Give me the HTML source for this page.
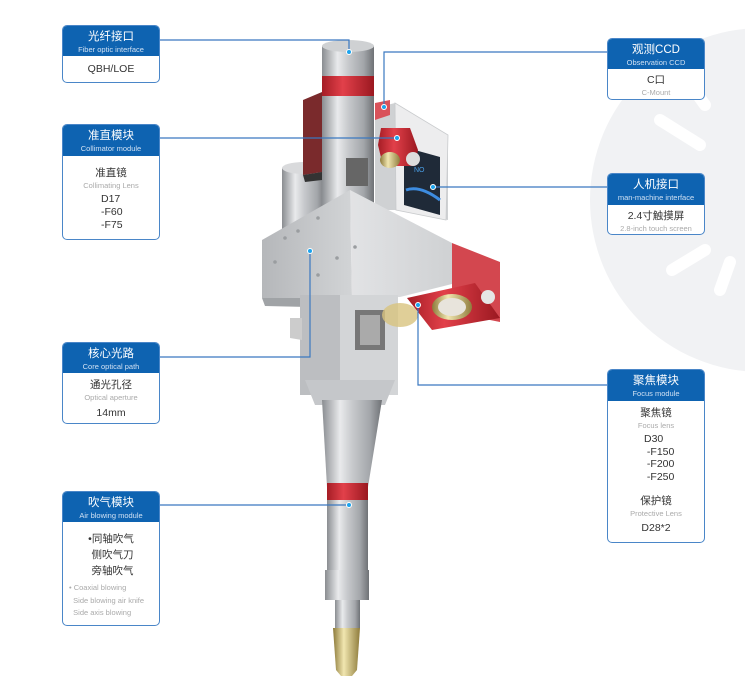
<!DOCTYPE html>
<html><head><meta charset="utf-8"><style>
*{margin:0;padding:0;box-sizing:border-box}
body{width:745px;height:695px;background:#fff;position:relative;overflow:hidden;font-family:"Liberation Sans","Noto Sans CJK SC",sans-serif}
.box{position:absolute;border:1.5px solid #4a86c8;border-radius:5px;background:#fff;overflow:hidden;text-align:center;color:#333}
.hd{background:#0e63b1;color:#fff;padding-top:4px}
.hd .c{font-size:11.5px;line-height:14px}
.hd .e{font-size:7.5px;line-height:11px;color:#cfe0f3}
.bd{font-size:10.5px;line-height:14px}
.g{color:#aaa;font-size:7.5px;line-height:11px}
svg{position:absolute;left:0;top:0}
</style></head><body>
<svg width="745" height="695" viewBox="0 0 745 695">
<defs>
<linearGradient id="cyl" x1="0" x2="1"><stop offset="0" stop-color="#8a8d91"/><stop offset=".3" stop-color="#e9eaec"/><stop offset=".5" stop-color="#c8cacd"/><stop offset=".8" stop-color="#a3a6aa"/><stop offset="1" stop-color="#6f7276"/></linearGradient>
<linearGradient id="red" x1="0" x2="1"><stop offset="0" stop-color="#a51d25"/><stop offset=".4" stop-color="#e2404a"/><stop offset="1" stop-color="#9a1820"/></linearGradient>
<linearGradient id="brass" x1="0" x2="1"><stop offset="0" stop-color="#8c7a3a"/><stop offset=".4" stop-color="#f1e6b0"/><stop offset="1" stop-color="#8f7c3c"/></linearGradient>
<linearGradient id="lf" x1="0" x2="1"><stop offset="0" stop-color="#b5b7ba"/><stop offset="1" stop-color="#d2d4d6"/></linearGradient>
<linearGradient id="rf" x1="0" x2="1"><stop offset="0" stop-color="#e2e3e5"/><stop offset="1" stop-color="#cfd1d3"/></linearGradient>
</defs>
<circle cx="762" cy="200" r="172" fill="#f1f2f4"/>
<g stroke="#fff" stroke-width="12" stroke-linecap="round" fill="none">
<line x1="660" y1="120" x2="700" y2="145"/><line x1="640" y1="200" x2="685" y2="205"/><line x1="680" y1="70" x2="705" y2="105"/><line x1="672" y1="270" x2="705" y2="250"/><line x1="720" y1="290" x2="730" y2="262"/>
</g>
<!-- back cylinder -->
<rect x="282" y="168" width="44" height="70" fill="url(#cyl)"/>
<ellipse cx="304" cy="168" rx="22" ry="6" fill="#d9dadc"/>
<!-- dark red box -->
<polygon points="303,100 322,92 322,172 303,175" fill="#7a2a2c"/>
<polygon points="303,175 322,172 322,180 305,182" fill="#333"/>
<!-- top cylinder -->
<rect x="322" y="46" width="52" height="170" fill="url(#cyl)"/>
<ellipse cx="348" cy="46" rx="26" ry="6" fill="#cfd1d3"/>
<rect x="322" y="76" width="52" height="20" fill="url(#red)"/>
<!-- upper box -->
<polygon points="375,108 395,103 448,135 448,220 395,210 375,210" fill="#cfd1d3"/>
<polygon points="395,103 448,135 446,220 396,210" fill="#ededee" stroke="#c9cbcd" stroke-width=".8"/>
<polygon points="375,103 390,100 390,115 375,120" fill="#d9525a"/>
<polygon points="404,147 440,157 440,215 404,205" fill="#1f2a38"/>
<path d="M406 190 Q420 185 440 200" stroke="#3d8ce0" stroke-width="3" fill="none"/>
<text x="414" y="172" fill="#4aa0e8" font-size="7" font-family="Liberation Sans">NO</text>
<rect x="346" y="158" width="22" height="28" fill="#666"/>
<!-- collimator bracket -->
<polygon points="381,128 410,128 418,150 415,166 383,166 378,145" fill="url(#red)"/>
<ellipse cx="390" cy="160" rx="10" ry="8" fill="url(#brass)"/>
<circle cx="413" cy="159" r="7" fill="#ddd"/>
<!-- main block -->
<polygon points="262,240 350,190 352,298 262,298" fill="url(#lf)"/>
<polygon points="350,190 452,243 452,284 400,297 352,298" fill="url(#rf)"/>
<polygon points="262,298 352,298 352,308 265,306" fill="#a0a3a6"/>
<g fill="#9a9da0"><circle cx="285" cy="238" r="1.8"/><circle cx="298" cy="231" r="1.8"/><circle cx="318" cy="218" r="1.8"/><circle cx="275" cy="262" r="1.8"/><circle cx="318" cy="275" r="1.8"/><circle cx="337" cy="258" r="1.8"/><circle cx="355" cy="247" r="1.8"/></g>
<!-- lower body -->
<rect x="300" y="295" width="98" height="100" fill="#d3d5d7"/>
<rect x="300" y="295" width="40" height="100" fill="#bcbec1"/>
<rect x="355" y="310" width="30" height="40" fill="#777"/>
<rect x="360" y="315" width="20" height="30" fill="#aaa"/>
<polygon points="290,318 302,318 302,340 290,338" fill="#ccc"/>
<polygon points="305,380 395,380 385,405 315,405" fill="#c5c7ca"/>
<!-- focus bracket -->
<polygon points="452,243 500,262 500,322 480,318 452,300" fill="#d3474f"/>
<polygon points="407,298 475,283 500,318 432,330" fill="url(#red)"/>
<ellipse cx="452" cy="307" rx="20" ry="13" fill="url(#brass)"/>
<ellipse cx="452" cy="307" rx="14" ry="9" fill="#e8e4dc"/>
<ellipse cx="400" cy="315" rx="18" ry="12" fill="#d8c37e" opacity=".8"/>
<circle cx="488" cy="297" r="7" fill="#e5e5e5"/>
<!-- nozzle -->
<polygon points="322,400 382,400 368,487 327,487" fill="url(#cyl)"/>
<rect x="327" y="483" width="41" height="17" fill="url(#red)"/>
<rect x="327" y="500" width="41" height="70" fill="url(#cyl)"/>
<rect x="325" y="570" width="44" height="30" fill="url(#cyl)"/>
<rect x="335" y="600" width="25" height="28" fill="url(#cyl)"/>
<polygon points="333,628 360,628 357,670 352,676 341,676 336,670" fill="url(#brass)"/>
<!-- connectors -->
<g stroke="#3a78c0" stroke-width="1.2" fill="none">
<polyline points="159,40 349,40 349,52"/>
<polyline points="159,138 397,138"/>
<polyline points="159,357 310,357 310,251"/>
<polyline points="159,505 349,505"/>
<polyline points="607,52 384,52 384,107"/>
<polyline points="607,187 433,187"/>
<polyline points="607,385 418,385 418,305"/>
</g>
<g fill="#1ba4ee" stroke="#fff" stroke-width="1">
<circle cx="349" cy="52" r="2.5"/><circle cx="397" cy="138" r="2.5"/><circle cx="310" cy="251" r="2.5"/><circle cx="349" cy="505" r="2.5"/><circle cx="384" cy="107" r="2.5"/><circle cx="433" cy="187" r="2.5"/><circle cx="418" cy="305" r="2.5"/>
</g>
</svg>

<div class="box" style="left:62px;top:25px;width:98px;height:58px"><div class="hd" style="height:30px"><div class="c">光纤接口</div><div class="e">Fiber optic interface</div></div><div class="bd" style="padding-top:6px">QBH/LOE</div></div>

<div class="box" style="left:62px;top:124px;width:98px;height:116px"><div class="hd" style="height:31px"><div class="c">准直模块</div><div class="e">Collimator module</div></div><div class="bd" style="padding-top:10px">准直镜</div><div class="g">Collimating Lens</div><div class="bd" style="text-align:left;padding-left:38px;line-height:13px;margin-top:2px">D17<br>-F60<br>-F75</div></div>

<div class="box" style="left:62px;top:342px;width:98px;height:82px"><div class="hd" style="height:30px"><div class="c">核心光路</div><div class="e">Core optical path</div></div><div class="bd" style="padding-top:5px">通光孔径</div><div class="g">Optical aperture</div><div class="bd" style="margin-top:3px">14mm</div></div>

<div class="box" style="left:62px;top:491px;width:98px;height:135px"><div class="hd" style="height:30px"><div class="c">吹气模块</div><div class="e">Air blowing module</div></div><div class="bd" style="padding-top:9px;line-height:16px">•同轴吹气<br>&nbsp;侧吹气刀<br>&nbsp;旁轴吹气</div><div class="g" style="text-align:left;padding-left:6px;line-height:12.5px;margin-top:3px">• Coaxial blowing<br>&nbsp;&nbsp;Side blowing air knife<br>&nbsp;&nbsp;Side axis blowing</div></div>

<div class="box" style="left:607px;top:38px;width:98px;height:62px"><div class="hd" style="height:30px"><div class="c">观测CCD</div><div class="e">Observation CCD</div></div><div class="bd" style="padding-top:4px">C口</div><div class="g">C-Mount</div></div>

<div class="box" style="left:607px;top:173px;width:98px;height:62px"><div class="hd" style="height:31px"><div class="c">人机接口</div><div class="e">man-machine interface</div></div><div class="bd" style="padding-top:4px">2.4寸触摸屏</div><div class="g">2.8-inch touch screen</div></div>

<div class="box" style="left:607px;top:369px;width:98px;height:174px"><div class="hd" style="height:31px"><div class="c">聚焦模块</div><div class="e">Focus module</div></div><div class="bd" style="padding-top:5px">聚焦镜</div><div class="g">Focus lens</div><div class="bd" style="text-align:left;padding-left:36px;line-height:12.5px;margin-top:2px">D30<br>&nbsp;-F150<br>&nbsp;-F200<br>&nbsp;-F250</div><div class="bd" style="margin-top:11px">保护镜</div><div class="g">Protective Lens</div><div class="bd" style="margin-top:2px">D28*2</div></div>
</body></html>
